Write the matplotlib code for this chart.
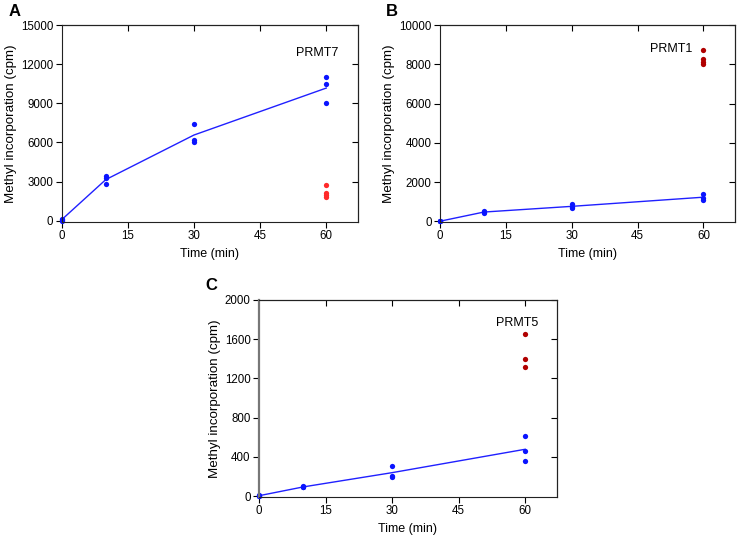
import numpy as np
import matplotlib
matplotlib.use('Agg')
import matplotlib.pyplot as plt

plt.rcParams['font.family'] = ['Liberation Sans', 'DejaVu Sans']

# time points (min)
t_line = [0, 10, 30, 60]

# Panel A - PRMT7
a_t = [0, 0, 0, 10, 10, 10, 30, 30, 30, 60, 60, 60]
a_y = [0, 80, 150, 3400, 3250, 2800, 7450, 6200, 6050, 11000, 10500, 9000]
a_ctrl_t = [60, 60, 60, 60]
a_ctrl_y = [2700, 2150, 1950, 1800]

# Panel B - PRMT1
b_t = [0, 0, 0, 10, 10, 10, 30, 30, 30, 60, 60, 60]
b_y = [0, 10, 20, 520, 460, 450, 880, 720, 700, 1400, 1200, 1100]
b_ctrl_t = [60, 60, 60, 60]
b_ctrl_y = [8750, 8250, 8100, 8000]

# Panel C - PRMT5
c_t = [0, 0, 0, 10, 10, 10, 30, 30, 30, 60, 60, 60]
c_y = [0, 5, 10, 100, 95, 90, 310, 210, 200, 610, 465, 360]
c_ctrl_t = [60, 60, 60]
c_ctrl_y = [1650, 1400, 1320]

panels = [
    ('A', 'PRMT7', a_t, a_y, a_ctrl_t, a_ctrl_y, '#ff2a2a', (-100, 15000), 3000,
     [61.7, 25, 358, 222], (58, 12850)),
    ('B', 'PRMT1', b_t, b_y, b_ctrl_t, b_ctrl_y, '#b00000', (-30, 10000), 2000,
     [440, 25, 735, 222], (52.6, 8765)),
    ('C', 'PRMT5', c_t, c_y, c_ctrl_t, c_ctrl_y, '#b00000', (-8, 2000), 400,
     [259, 300, 557, 497], (58.2, 1762)),
]

W, H = 738, 540
fig = plt.figure(figsize=(W / 100, H / 100), dpi=100)

for lab, name, t, y, ct, cy, ccol, ylim, ystep, box, txt in panels:
    l, top, r, b = box
    ax = fig.add_axes([l / W, 1 - b / H, (r - l) / W, (b - top) / H])
    t = np.array(t)
    y = np.array(y)
    means = [y[t == tt].mean() for tt in t_line]
    ax.plot(t_line, means, color='#2020ff', lw=1)
    ax.plot(t, y, 'o', color='#0a14ff', ms=3.8, mec='none', clip_on=False)
    ax.plot(ct, cy, 'o', color=ccol, ms=3.8, mec='none', clip_on=False)
    ax.set_xlim(0, 67.2)
    ax.set_ylim(*ylim)
    ax.set_xticks([0, 15, 30, 45, 60])
    ax.set_yticks(np.arange(0, ylim[1] + 1, ystep))
    ax.tick_params(direction='out', length=4, width=0.8, labelsize=8.3, pad=2)
    ax.set_xlabel('Time (min)', fontsize=9, labelpad=4)
    ax.set_ylabel('Methyl incorporation (cpm)', fontsize=9.6, labelpad=3)
    for s in ax.spines.values():
        s.set_linewidth(0.8)
        s.set_color('#222222')
    if lab == 'C':
        ax.spines['left'].set_color('#777777')
        ax.spines['left'].set_linewidth(1.6)
    sx = ax.secondary_xaxis('top')
    sx.set_xticks([15, 30, 45, 60])
    sx.tick_params(direction='in', length=4, width=0.8, labeltop=False)
    sy = ax.secondary_yaxis('right')
    sy.set_yticks(np.arange(ystep, ylim[1] + 1, ystep))
    sy.tick_params(direction='in', length=4, width=0.8, labelright=False)
    ax.text(txt[0], txt[1], name, fontsize=9, ha='center', va='center')
    fig.text((l - 53) / W if lab == 'A' else (l - 54) / W, 1 - (top - 14) / H, lab,
             fontsize=12, fontweight='bold', ha='left', va='center')

fig.savefig('out.png', dpi=100)
